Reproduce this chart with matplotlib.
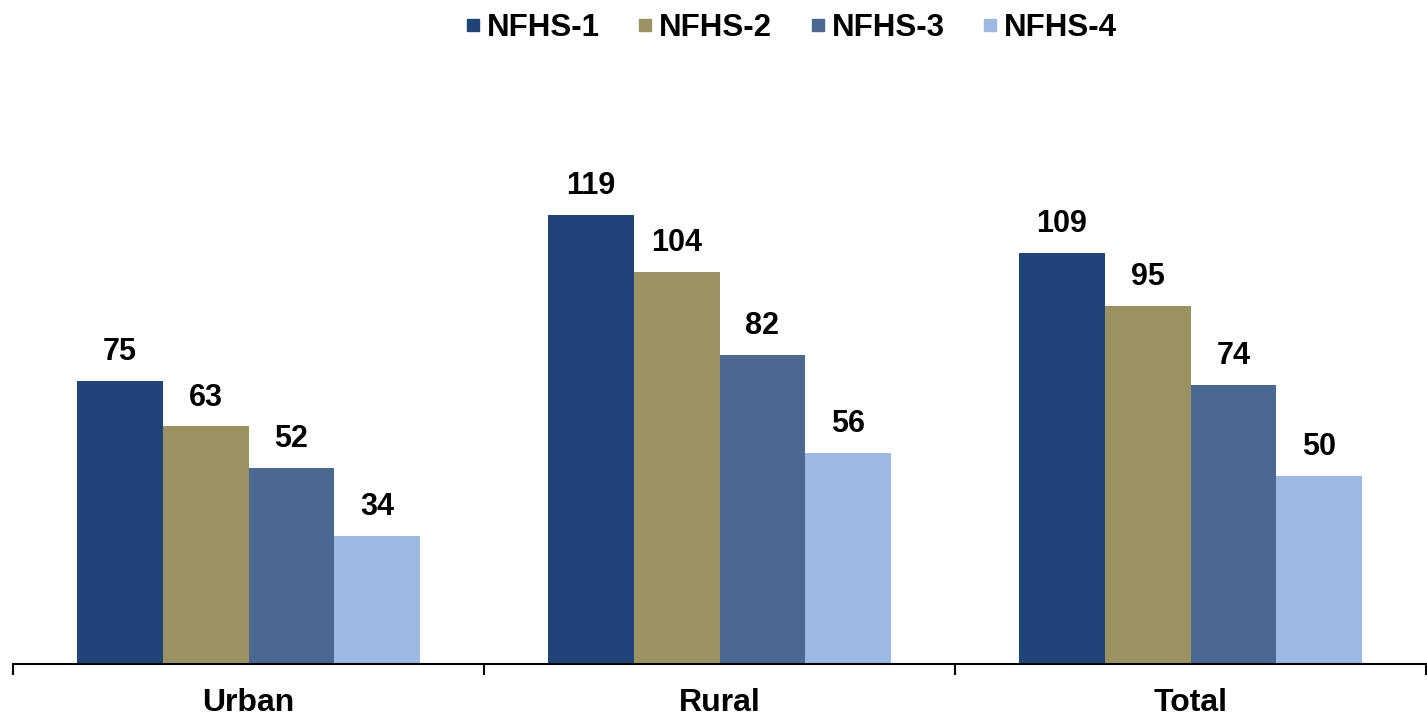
import matplotlib
matplotlib.use("Agg")
import matplotlib.pyplot as plt
from matplotlib.lines import Line2D
import numpy as np

categories = ["Urban", "Rural", "Total"]
series = ["NFHS-1", "NFHS-2", "NFHS-3", "NFHS-4"]
nfhs1 = [75, 119, 109]
nfhs2 = [63, 104, 95]
nfhs3 = [52, 82, 74]
nfhs4 = [34, 56, 50]
values = [nfhs1, nfhs2, nfhs3, nfhs4]
colors = ["#1F4477", "#9B9262", "#4A6891", "#9BB9E3"]

plt.rcParams['font.family'] = ['Liberation Sans', 'DejaVu Sans']

fig = plt.figure(figsize=(14.27, 7.19), dpi=100)
ax = fig.add_axes([13/1427, (719-664)/719, (1426-13)/1427, (664-60)/719])

x = np.arange(len(categories))
w = 0.182
for i, (name, vals, c) in enumerate(zip(series, values, colors)):
    pos = x + (i - 1.5) * w
    bars = ax.bar(pos, vals, width=w, color=c, label=name, linewidth=0)
    for b, v in zip(bars, vals):
        ax.annotate(str(v), (b.get_x() + b.get_width()/2, v), xytext=(0, 10),
                    textcoords="offset points", ha="center", va="bottom",
                    fontsize=22, fontweight="bold")

ax.set_xlim(-0.5, 2.5)
ax.set_ylim(0, (664-60)/3.77)
for s in ["top", "right", "left"]:
    ax.spines[s].set_visible(False)
ax.spines["bottom"].set_linewidth(1.5)
ax.set_yticks([])
ax.set_xticks(x)
ax.set_xticklabels(categories, fontsize=23, fontweight="bold")
ax.tick_params(axis="x", which="major", length=0, pad=17)
ax.set_xticks([-0.5, 0.5, 1.5, 2.5], minor=True)
ax.tick_params(axis="x", which="minor", length=8, width=1.5, direction="out")

handles = [Line2D([], [], marker="s", linestyle="none", markersize=9,
                  markerfacecolor=c, markeredgecolor=c) for c in colors]
fig.legend(handles, series, loc="center", bbox_to_anchor=(791/1427, 1-28/719),
           ncol=4, frameon=False, prop={"size": 22.5, "weight": "bold"},
           handlelength=0.5, handletextpad=0.2, columnspacing=1.2)

fig.savefig("out.png", dpi=100)
